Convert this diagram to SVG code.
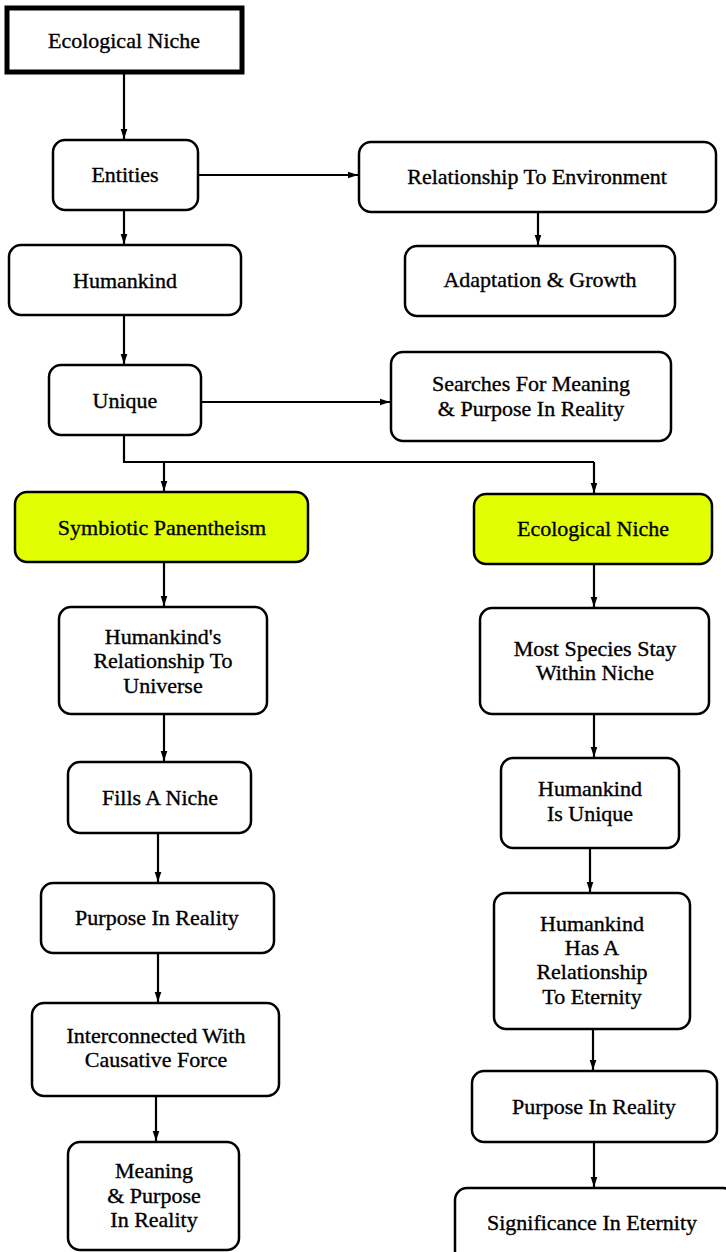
<svg xmlns="http://www.w3.org/2000/svg" width="726" height="1252" viewBox="0 0 726 1252">
<defs>
<marker id="ah" markerUnits="userSpaceOnUse" markerWidth="10" markerHeight="12" viewBox="0 0 12 10" refX="12" refY="5" orient="auto">
<path d="M0,1 L12,5 L0,9 Z" fill="#000"/>
</marker>
<style>
.box{fill:#fff;stroke:#000;stroke-width:2.5}
.hl{fill:#e1ff00;stroke:#000;stroke-width:2.5}
.root{fill:#fff;stroke:#000;stroke-width:5}
.t{font-family:"Liberation Serif","Times New Roman",serif;font-size:22px;fill:#000;stroke:#000;stroke-width:0.35;text-anchor:middle}
.c{fill:none;stroke:#000;stroke-width:2.2;marker-end:url(#ah)}
.cl{fill:none;stroke:#000;stroke-width:2.2}
</style>
</defs>
<rect width="726" height="1252" fill="#fff"/>
<g id="connectors">
<path class="c" d="M124,72 V139"/>
<path class="c" d="M198,175 H358"/>
<path class="c" d="M124,210 V244"/>
<path class="c" d="M538,212 V245"/>
<path class="c" d="M124,315 V364"/>
<path class="c" d="M201,402 H390"/>
<path class="cl" d="M124,435 V462 H594"/>
<path class="c" d="M164,462 V491"/>
<path class="c" d="M594,462 V493"/>
<path class="c" d="M164,562 V606"/>
<path class="c" d="M164,714 V761"/>
<path class="c" d="M158,833 V882"/>
<path class="c" d="M158,953 V1002"/>
<path class="c" d="M156,1096 V1141"/>
<path class="c" d="M594,564 V607"/>
<path class="c" d="M594,714 V757"/>
<path class="c" d="M590,848 V892"/>
<path class="c" d="M593,1029 V1070"/>
<path class="c" d="M594,1142 V1187"/>
</g>
<g id="n-root"><rect class="root" x="7" y="8" width="235" height="64"/><text class="t" x="124" y="48">Ecological Niche</text></g>
<g id="n-entities"><rect class="box" x="53" y="140" width="145" height="70" rx="12"/><text class="t" x="125" y="182">Entities</text></g>
<g id="n-rte"><rect class="box" x="359" y="142" width="357" height="70" rx="12"/><text class="t" x="537" y="184">Relationship To Environment</text></g>
<g id="n-humankind"><rect class="box" x="9" y="245" width="232" height="70" rx="12"/><text class="t" x="125" y="288">Humankind</text></g>
<g id="n-adapt"><rect class="box" x="405" y="246" width="270" height="70" rx="12"/><text class="t" x="540" y="287">Adaptation &amp; Growth</text></g>
<g id="n-unique"><rect class="box" x="49" y="365" width="152" height="70" rx="12"/><text class="t" x="125" y="408">Unique</text></g>
<g id="n-searches"><rect class="box" x="391" y="352" width="280" height="89" rx="12"/><text class="t" x="531" y="391">Searches For Meaning</text><text class="t" x="531" y="416">&amp; Purpose In Reality</text></g>
<g id="n-symbiotic"><rect class="hl" x="15" y="492" width="293" height="70" rx="12"/><text class="t" x="162" y="535">Symbiotic Panentheism</text></g>
<g id="n-eco2"><rect class="hl" x="474" y="494" width="238" height="70" rx="12"/><text class="t" x="593" y="536">Ecological Niche</text></g>
<g id="n-hrtu"><rect class="box" x="59" y="607" width="208" height="107" rx="12"/><text class="t" x="163" y="644">Humankind's</text><text class="t" x="163" y="668">Relationship To</text><text class="t" x="163" y="693">Universe</text></g>
<g id="n-fills"><rect class="box" x="68" y="762" width="183" height="71" rx="12"/><text class="t" x="160" y="805">Fills A Niche</text></g>
<g id="n-pir1"><rect class="box" x="41" y="883" width="233" height="70" rx="12"/><text class="t" x="157" y="925">Purpose In Reality</text></g>
<g id="n-inter"><rect class="box" x="32" y="1003" width="247" height="93" rx="12"/><text class="t" x="156" y="1043">Interconnected With</text><text class="t" x="156" y="1067">Causative Force</text></g>
<g id="n-meaning"><rect class="box" x="68" y="1142" width="171" height="108" rx="12"/><text class="t" x="154" y="1178">Meaning</text><text class="t" x="154" y="1203">&amp; Purpose</text><text class="t" x="154" y="1227">In Reality</text></g>
<g id="n-most"><rect class="box" x="480" y="608" width="229" height="106" rx="12"/><text class="t" x="595" y="656">Most Species Stay</text><text class="t" x="595" y="680">Within Niche</text></g>
<g id="n-hiu"><rect class="box" x="501" y="758" width="178" height="90" rx="12"/><text class="t" x="590" y="796">Humankind</text><text class="t" x="590" y="821">Is Unique</text></g>
<g id="n-hhar"><rect class="box" x="494" y="893" width="196" height="136" rx="12"/><text class="t" x="592" y="931">Humankind</text><text class="t" x="592" y="955">Has A</text><text class="t" x="592" y="979">Relationship</text><text class="t" x="592" y="1004">To Eternity</text></g>
<g id="n-pir2"><rect class="box" x="472" y="1071" width="245" height="71" rx="12"/><text class="t" x="594" y="1114">Purpose In Reality</text></g>
<g id="n-sig"><rect class="box" x="455" y="1188" width="280" height="80" rx="12"/><text class="t" x="592" y="1230">Significance In Eternity</text></g>
</svg>
